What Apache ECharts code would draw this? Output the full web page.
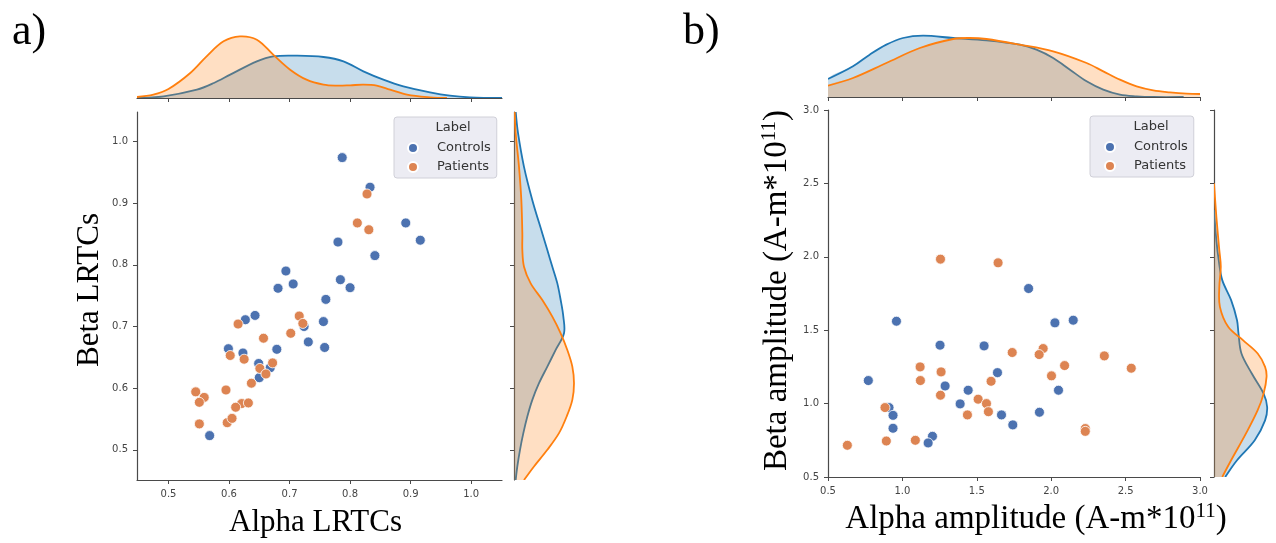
<!DOCTYPE html>
<html>
<head>
<meta charset="utf-8">
<script src="https://cdn.jsdelivr.net/npm/echarts@6/dist/echarts.min.js"></script>
<style>
  html, body { margin: 0; padding: 0; background: #fff; }
  #chart { width: 1276px; height: 543px; }
</style>
</head>
<body>
<div id="chart"></div>
<script>
// panel a: LRTCs, [alpha, beta]
const lrtcControls = [
  [0.787, 0.974], [0.833, 0.926], [0.892, 0.868], [0.916, 0.840], [0.780, 0.837],
  [0.841, 0.815], [0.694, 0.790], [0.706, 0.769], [0.681, 0.762], [0.784, 0.776],
  [0.800, 0.763], [0.760, 0.744], [0.643, 0.718], [0.627, 0.711], [0.756, 0.708],
  [0.724, 0.700], [0.731, 0.675], [0.758, 0.666], [0.599, 0.664], [0.679, 0.663],
  [0.623, 0.657], [0.649, 0.640], [0.668, 0.633], [0.650, 0.617], [0.568, 0.523]
];
const lrtcPatients = [
  [0.828, 0.915], [0.812, 0.868], [0.831, 0.857], [0.615, 0.704], [0.716, 0.717],
  [0.722, 0.705], [0.657, 0.681], [0.702, 0.689], [0.602, 0.653], [0.625, 0.647],
  [0.651, 0.632], [0.672, 0.641], [0.661, 0.623], [0.637, 0.608], [0.545, 0.594],
  [0.595, 0.597], [0.559, 0.585], [0.551, 0.577], [0.621, 0.575], [0.632, 0.576],
  [0.611, 0.569], [0.551, 0.542], [0.597, 0.544], [0.605, 0.551]
];

// panel b: amplitudes, [alpha, beta]
const ampControls = [
  [1.848, 1.784], [0.960, 1.561], [2.025, 1.550], [2.148, 1.568], [1.253, 1.398],
  [1.549, 1.393], [0.771, 1.157], [1.639, 1.211], [1.287, 1.120], [1.442, 1.091],
  [2.049, 1.091], [1.388, 0.998], [0.910, 0.973], [0.937, 0.920], [1.666, 0.923],
  [1.921, 0.941], [1.742, 0.855], [0.937, 0.832], [1.202, 0.777], [1.173, 0.732]
];
const ampPatients = [
  [1.256, 1.984], [1.643, 1.959], [1.738, 1.348], [1.946, 1.375], [1.919, 1.334],
  [2.357, 1.325], [2.538, 1.241], [2.090, 1.259], [1.119, 1.250], [1.260, 1.216],
  [2.002, 1.189], [1.121, 1.157], [1.596, 1.152], [1.256, 1.057], [1.509, 1.030],
  [1.565, 1.000], [0.883, 0.973], [1.578, 0.945], [1.437, 0.923], [2.229, 0.830],
  [2.229, 0.811], [0.892, 0.745], [1.087, 0.750], [0.630, 0.716]
];

// marginal density curves, [value, density]
const alphaLrtcKdeControls = [
  [0.448, 0], [0.492, 5], [0.547, 25], [0.575, 45], [0.602, 70], [0.646, 110],
  [0.673, 125], [0.712, 127], [0.756, 123], [0.789, 110], [0.822, 80], [0.855, 55],
  [0.888, 35], [0.932, 17], [0.965, 7], [0.998, 2], [1.051, 0]
];
const alphaLrtcKdePatients = [
  [0.448, 3], [0.475, 10], [0.500, 27], [0.536, 75], [0.563, 125], [0.591, 170],
  [0.618, 185], [0.646, 175], [0.673, 130], [0.701, 85], [0.728, 55], [0.756, 40],
  [0.778, 37], [0.800, 38], [0.822, 40], [0.844, 37], [0.866, 25], [0.894, 10],
  [0.932, 2], [0.960, 0]
];
const betaLrtcKdeControls = [
  [1.049, 5], [1.014, 12], [0.959, 30], [0.905, 55], [0.851, 85], [0.824, 100],
  [0.797, 115], [0.770, 130], [0.743, 140], [0.716, 148], [0.689, 150], [0.662, 125],
  [0.635, 100], [0.608, 75], [0.581, 55], [0.554, 40], [0.527, 28], [0.500, 18],
  [0.473, 10], [0.451, 5]
];
const betaLrtcKdePatients = [
  [1.049, 2], [1.014, 5], [0.959, 15], [0.905, 22], [0.851, 25], [0.824, 25],
  [0.797, 30], [0.770, 50], [0.743, 85], [0.716, 115], [0.689, 140], [0.662, 160],
  [0.635, 175], [0.608, 180], [0.581, 175], [0.554, 158], [0.527, 135], [0.500, 100],
  [0.473, 60], [0.451, 30]
];
const alphaAmpKdeControls = [
  [0.5, 54], [0.668, 92], [0.780, 127], [0.892, 157], [1.004, 177], [1.139, 184],
  [1.341, 177], [1.565, 170], [1.789, 157], [1.901, 142], [2.013, 117], [2.126, 82],
  [2.238, 47], [2.350, 22], [2.462, 7], [2.574, 2], [2.686, 0], [2.89, 0]
];
const alphaAmpKdePatients = [
  [0.5, 34], [0.668, 57], [0.892, 102], [1.117, 147], [1.341, 174], [1.453, 177],
  [1.565, 174], [1.789, 157], [2.013, 137], [2.238, 102], [2.350, 77], [2.462, 52],
  [2.574, 32], [2.686, 20], [2.798, 14], [2.910, 10], [3.0, 9]
];
const betaAmpKdeControls = [
  [2.318, 0], [2.114, 8], [1.977, 16], [1.841, 28], [1.705, 58], [1.568, 78],
  [1.477, 83], [1.341, 93], [1.205, 128], [1.068, 168], [0.977, 180], [0.886, 173],
  [0.750, 138], [0.614, 78], [0.5, 38]
];
const betaAmpKdePatients = [
  [2.5, 0], [2.273, 8], [2.045, 18], [1.932, 23], [1.795, 18], [1.659, 20],
  [1.523, 48], [1.432, 98], [1.341, 148], [1.250, 173], [1.182, 178], [1.068, 168],
  [0.955, 148], [0.795, 108], [0.614, 58], [0.5, 28]
];

const lrtcTicks = [0.5, 0.6, 0.7, 0.8, 0.9, 1.0];
const groups = ['Controls', 'Patients'];

const dotColors = ['#4C72B0', '#DD8452'];
const lineColors = ['#1f77b4', '#ff7f0e'];
const fillColors = ['rgba(31,119,180,0.25)', 'rgba(255,127,14,0.25)'];
const axisColor = '#4a4a4a';
const serif = 'Liberation Serif';
const sans = 'DejaVu Sans';

const myChart = echarts.init(document.getElementById('chart'));

// filled density curve; vertical ones lie along the y axis
function kde(points, idx, axis, vertical) {
  return {
    type: 'custom',
    xAxisIndex: axis,
    yAxisIndex: axis,
    clip: true,
    silent: true,
    data: points,
    encode: vertical ? { x: 1, y: 0 } : { x: 0, y: 1 },
    renderItem: function (params, api) {
      if (params.dataIndex !== 0) return null;
      const toXY = p => vertical ? [p[1], p[0]] : [p[0], p[1]];
      const pts = points.map(p => api.coord(toXY(p)));
      const first = points[0], last = points[points.length - 1];
      const base = [
        api.coord(toXY([last[0], 0])),
        api.coord(toXY([first[0], 0]))
      ];
      return {
        type: 'group',
        children: [{
          type: 'polygon',
          shape: { points: pts.concat(base), smooth: 0.35 },
          style: { fill: fillColors[idx] }
        }, {
          type: 'polyline',
          shape: { points: pts, smooth: 0.35 },
          style: { stroke: lineColors[idx], lineWidth: 1.8, fill: null }
        }]
      };
    }
  };
}

function scatter(name, data, idx, axis) {
  return {
    name: name,
    type: 'scatter',
    xAxisIndex: axis,
    yAxisIndex: axis,
    data: data,
    symbolSize: 10,
    itemStyle: { color: dotColors[idx], borderColor: '#fff', borderWidth: 0.8, opacity: 1 }
  };
}

const lineStyle = { show: true, onZero: false, lineStyle: { color: axisColor, width: 1.2 } };
const tickStyle = { show: true, length: 4, lineStyle: { color: axisColor, width: 1 } };
const labelStyle = { color: '#444', fontSize: 10, fontFamily: sans, margin: 9 };
const hidden = { show: false };

function valueAxis(min, max, extra) {
  return Object.assign({
    type: 'value', min: min, max: max,
    axisLine: lineStyle, axisTick: tickStyle,
    axisLabel: { show: false }, splitLine: hidden
  }, extra);
}

const lrtcTickOpts = {
  axisTick: Object.assign({}, tickStyle, { customValues: lrtcTicks }),
  axisLabel: Object.assign({}, labelStyle, { customValues: lrtcTicks, formatter: v => v.toFixed(1) })
};
const lrtcTickOnly = {
  axisTick: Object.assign({}, tickStyle, { customValues: lrtcTicks }),
  axisLabel: { show: false, customValues: lrtcTicks }
};
const ampLabels = { axisLabel: Object.assign({}, labelStyle, { formatter: v => v.toFixed(1) }) };

const nameStyle = { fontFamily: serif, fontSize: 31, color: '#000' };
const ampNameRich = {
  a: { fontFamily: serif, fontSize: 33, color: '#000', lineHeight: 36 },
  s: { fontFamily: serif, fontSize: 21, color: '#000', lineHeight: 18, verticalAlign: 'top' }
};

const option = {
  animation: false,
  backgroundColor: '#fff',
  title: [
    { text: 'a)', left: 7, top: 5, textStyle: { fontFamily: serif, fontSize: 44, fontWeight: 'normal', color: '#000' } },
    { text: 'b)', left: 678, top: 5, textStyle: { fontFamily: serif, fontSize: 44, fontWeight: 'normal', color: '#000' } }
  ],
  grid: [
    { left: 137, top: 112, width: 365, height: 368 },
    { left: 137, top: 28, width: 365, height: 70 },
    { left: 514, top: 112, width: 70, height: 368 },
    { left: 828, top: 110, width: 372, height: 367 },
    { left: 828, top: 27, width: 372, height: 70 },
    { left: 1214, top: 110, width: 70, height: 367 }
  ],
  xAxis: [
    valueAxis(0.448, 1.051, Object.assign({
      gridIndex: 0, name: 'Alpha LRTCs', nameLocation: 'middle', nameGap: 27,
      nameTextStyle: Object.assign({ padding: [0, 8, 0, 0] }, nameStyle)
    }, lrtcTickOpts)),
    valueAxis(0.448, 1.051, Object.assign({ gridIndex: 1 }, lrtcTickOnly)),
    valueAxis(0, 210, { gridIndex: 2, show: false }),
    valueAxis(0.5, 3.0, Object.assign({
      gridIndex: 3, interval: 0.5,
      name: '{a|Alpha amplitude (A-m*10}{s|11}{a|)}', nameLocation: 'middle', nameGap: 24,
      nameTextStyle: { padding: [0, 0, 0, 44], rich: ampNameRich }
    }, ampLabels)),
    valueAxis(0.5, 3.0, { gridIndex: 4, interval: 0.5 }),
    valueAxis(0, 210, { gridIndex: 5, show: false })
  ],
  yAxis: [
    valueAxis(0.451, 1.048, Object.assign({
      gridIndex: 0, name: 'Beta LRTCs', nameLocation: 'middle', nameGap: 32,
      nameTextStyle: Object.assign({ padding: [0, 0, 0, 12] }, nameStyle)
    }, lrtcTickOpts)),
    valueAxis(0, 210, { gridIndex: 1, show: false }),
    valueAxis(0.451, 1.048, Object.assign({ gridIndex: 2 }, lrtcTickOnly)),
    valueAxis(0.5, 3.0, Object.assign({
      gridIndex: 3, interval: 0.5,
      name: '{a|Beta amplitude (A-m*10}{s|11}{a|)}', nameLocation: 'middle', nameGap: 33,
      nameTextStyle: { padding: [0, 0, 0, 6], rich: ampNameRich }
    }, ampLabels)),
    valueAxis(0, 210, { gridIndex: 4, show: false }),
    valueAxis(0.5, 3.0, { gridIndex: 5, interval: 0.5 })
  ],
  legend: [
    {
      data: groups, left: 394, top: 117, orient: 'vertical', selectedMode: false,
      padding: [24, 6, 4, 13], itemGap: 5, itemWidth: 10, itemHeight: 10, icon: 'circle',
      backgroundColor: 'rgba(234,234,242,0.9)', borderColor: '#d0d0d8', borderWidth: 1, borderRadius: 3,
      textStyle: { fontFamily: sans, fontSize: 13, lineHeight: 14, color: '#333', padding: [0, 0, 0, 14] }
    },
    {
      data: groups, left: 1090, top: 116, orient: 'vertical', selectedMode: false,
      padding: [24, 6, 4, 14], itemGap: 5, itemWidth: 10, itemHeight: 10, icon: 'circle',
      backgroundColor: 'rgba(234,234,242,0.9)', borderColor: '#d0d0d8', borderWidth: 1, borderRadius: 3,
      textStyle: { fontFamily: sans, fontSize: 13, lineHeight: 14, color: '#333', padding: [0, 0, 0, 14] }
    }
  ],
  graphic: [
    { type: 'text', z: 100, x: 453, y: 128, style: { text: 'Label', font: '13px "DejaVu Sans"', fill: '#333', align: 'center', verticalAlign: 'middle' } },
    { type: 'text', z: 100, x: 1151, y: 127, style: { text: 'Label', font: '13px "DejaVu Sans"', fill: '#333', align: 'center', verticalAlign: 'middle' } }
  ],
  series: [
    scatter('Controls', lrtcControls, 0, 0),
    scatter('Patients', lrtcPatients, 1, 0),
    kde(alphaLrtcKdeControls, 0, 1, false),
    kde(alphaLrtcKdePatients, 1, 1, false),
    kde(betaLrtcKdeControls, 0, 2, true),
    kde(betaLrtcKdePatients, 1, 2, true),
    scatter('Controls', ampControls, 0, 3),
    scatter('Patients', ampPatients, 1, 3),
    kde(alphaAmpKdeControls, 0, 4, false),
    kde(alphaAmpKdePatients, 1, 4, false),
    kde(betaAmpKdeControls, 0, 5, true),
    kde(betaAmpKdePatients, 1, 5, true)
  ]
};

myChart.setOption(option);
</script>
</body>
</html>
